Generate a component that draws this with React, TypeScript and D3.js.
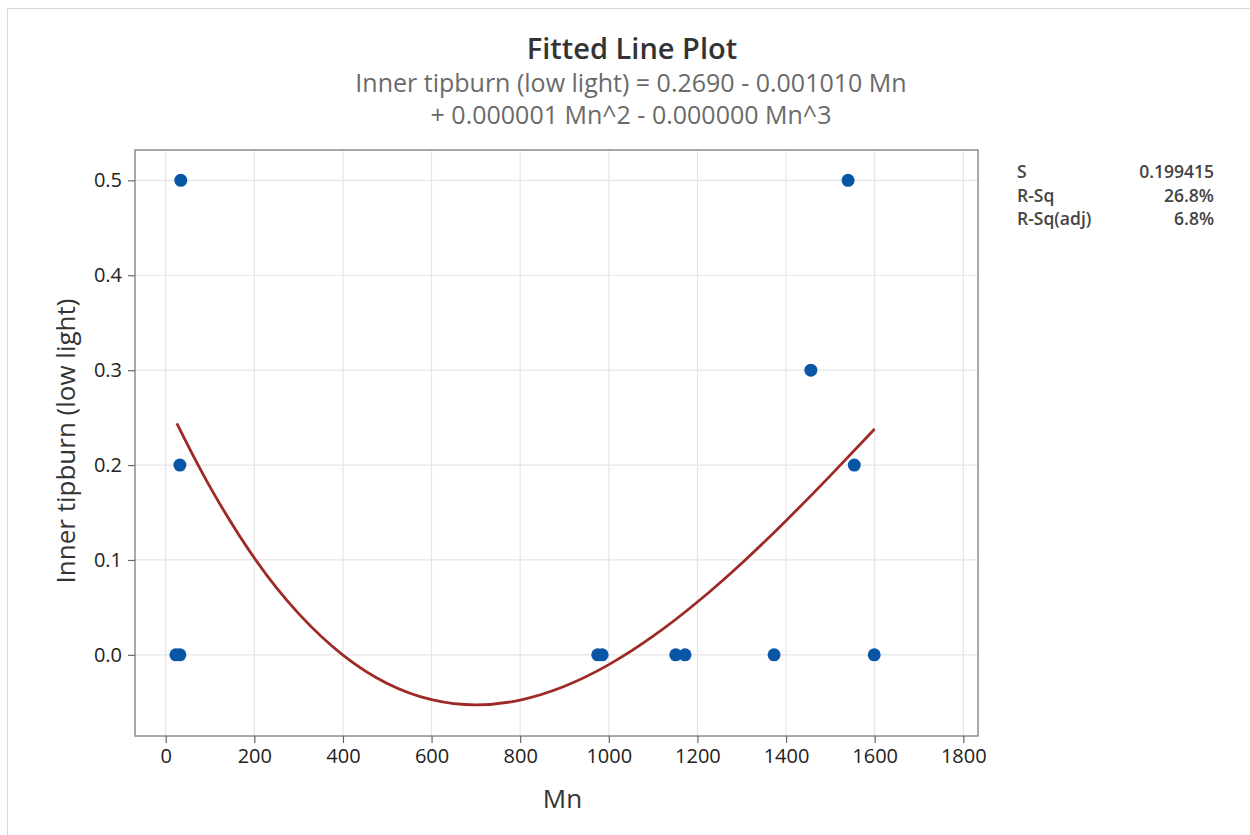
import React, { useEffect, useRef } from 'react';
import * as d3 from 'd3';

// observed points (Mn, Inner tipburn)
const mnValues = [23, 32, 32, 34, 975, 985, 1151, 1172, 1373, 1456, 1540, 1554, 1599];
const tipburnValues = [0, 0, 0.2, 0.5, 0, 0, 0, 0, 0, 0.3, 0.5, 0.2, 0];

// fitted line
const fitMn = [25, 100, 200, 300, 400, 500, 600, 700, 800, 900, 1000, 1100, 1200, 1300, 1400, 1500, 1600];
const fitValues = [0.244, 0.177, 0.102, 0.0435, -0.0002, -0.0301, -0.0472, -0.0527, -0.0476, -0.0331, -0.0103, 0.0197, 0.0557, 0.0966, 0.1414, 0.1889, 0.238];

const xTicks = [0, 200, 400, 600, 800, 1000, 1200, 1400, 1600, 1800];
const yTicks = [0, 0.1, 0.2, 0.3, 0.4, 0.5];

const statLabels = ['S', 'R-Sq', 'R-Sq(adj)'];
const statValues = ['0.199415', '26.8%', '6.8%'];

const FONT = '"Open Sans", "Noto Sans", sans-serif';

const App: React.FC = () => {
  const svgRef = useRef<SVGSVGElement>(null);

  useEffect(() => {
    if (!svgRef.current) return;
    const svg = d3.select(svgRef.current);
    svg.selectAll('*').remove();

    const W = 1250;
    const H = 835;
    const plot = { left: 135, right: 978, top: 150, bottom: 736 };

    svg.attr('width', W).attr('height', H);

    svg.append('rect').attr('width', W).attr('height', H).attr('fill', '#fff');
    // outer panel border
    svg.append('rect')
      .attr('x', 7.5).attr('y', 8.5)
      .attr('width', W).attr('height', H)
      .attr('fill', 'none')
      .attr('stroke', '#d9d9d9');

    const x = d3.scaleLinear().domain([-69.3, 1833.2]).range([plot.left, plot.right]);
    const y = d3.scaleLinear().domain([-0.0855, 0.532]).range([plot.bottom, plot.top]);

    // gridlines
    const grid = svg.append('g');
    grid.selectAll('.vg')
      .data(xTicks)
      .enter().append('line')
      .attr('x1', d => x(d)).attr('x2', d => x(d))
      .attr('y1', plot.top).attr('y2', plot.bottom)
      .attr('stroke', '#e6e6e6').attr('stroke-width', 1.2);
    grid.selectAll('.hg')
      .data(yTicks)
      .enter().append('line')
      .attr('y1', d => y(d)).attr('y2', d => y(d))
      .attr('x1', plot.left).attr('x2', plot.right)
      .attr('stroke', '#e6e6e6').attr('stroke-width', 1.2);

    // frame
    svg.append('rect')
      .attr('x', plot.left).attr('y', plot.top)
      .attr('width', plot.right - plot.left)
      .attr('height', plot.bottom - plot.top)
      .attr('fill', 'none')
      .attr('stroke', '#8c8c8c')
      .attr('stroke-width', 1.5);

    // axes
    const xAxis = svg.append('g')
      .attr('transform', `translate(0,${plot.bottom})`)
      .call(d3.axisBottom(x).tickValues(xTicks).tickSize(7).tickPadding(6).tickFormat(d3.format('d')));
    const yAxis = svg.append('g')
      .attr('transform', `translate(${plot.left},0)`)
      .call(d3.axisLeft(y).tickValues(yTicks).tickSize(7).tickPadding(6).tickFormat(d3.format('.1f')));

    [xAxis, yAxis].forEach(a => {
      a.select('.domain').remove();
      a.selectAll('line').attr('stroke', '#666').attr('stroke-width', 1.2);
      a.selectAll('text')
        .style('font-family', FONT)
        .style('font-size', '20px')
        .style('font-weight', 500)
        .attr('fill', '#222');
    });

    // fitted curve
    const line = d3.line<number>()
      .x((_, i) => x(fitMn[i]))
      .y(d => y(d))
      .curve(d3.curveNatural);
    svg.append('path')
      .datum(fitValues)
      .attr('d', line)
      .attr('fill', 'none')
      .attr('stroke', '#9e2a27')
      .attr('stroke-width', 2.8);

    // data points
    svg.selectAll('.pt')
      .data(mnValues)
      .enter().append('circle')
      .attr('cx', d => x(d))
      .attr('cy', (_, i) => y(tipburnValues[i]))
      .attr('r', 6.5)
      .attr('fill', '#0a56a6');

    // titles
    svg.append('text')
      .attr('x', 632).attr('y', 59)
      .attr('text-anchor', 'middle')
      .style('font-family', FONT)
      .style('font-size', '29px')
      .style('font-weight', 600)
      .attr('fill', '#333')
      .text('Fitted Line Plot');
    svg.append('text')
      .attr('x', 631).attr('y', 92)
      .attr('text-anchor', 'middle')
      .style('font-family', FONT)
      .style('font-size', '25px')
      .attr('fill', '#6a6a6a')
      .text('Inner tipburn (low light) = 0.2690 - 0.001010 Mn');
    svg.append('text')
      .attr('x', 631).attr('y', 124)
      .attr('text-anchor', 'middle')
      .style('font-family', FONT)
      .style('font-size', '25px')
      .attr('fill', '#6a6a6a')
      .text('+ 0.000001 Mn^2 - 0.000000 Mn^3');

    // axis titles
    svg.append('text')
      .attr('x', x(900) - 2).attr('y', 808)
      .attr('text-anchor', 'middle')
      .style('font-family', FONT)
      .style('font-size', '26px')
      .attr('fill', '#333')
      .text('Mn');
    svg.append('text')
      .attr('transform', `translate(75,${(plot.top + plot.bottom) / 2 - 2}) rotate(-90)`)
      .attr('text-anchor', 'middle')
      .style('font-family', FONT)
      .style('font-size', '26px')
      .attr('fill', '#333')
      .text('Inner tipburn (low light)');

    // stats table
    const stats = svg.append('g');
    statLabels.forEach((lab, i) => {
      stats.append('text')
        .attr('x', 1017).attr('y', 178 + i * 23.5)
        .style('font-family', FONT)
        .style('font-size', '17.5px')
        .style('font-weight', 600)
        .attr('fill', '#444')
        .text(lab);
      stats.append('text')
        .attr('x', 1214).attr('y', 178 + i * 23.5)
        .attr('text-anchor', 'end')
        .style('font-family', FONT)
        .style('font-size', '17.5px')
        .style('font-weight', 600)
        .attr('fill', '#444')
        .text(statValues[i]);
    });
  }, []);

  return (
    <div style={{ position: 'absolute', left: 0, top: 0 }}>
      <svg ref={svgRef} style={{ display: 'block' }}></svg>
    </div>
  );
};

export default App;
